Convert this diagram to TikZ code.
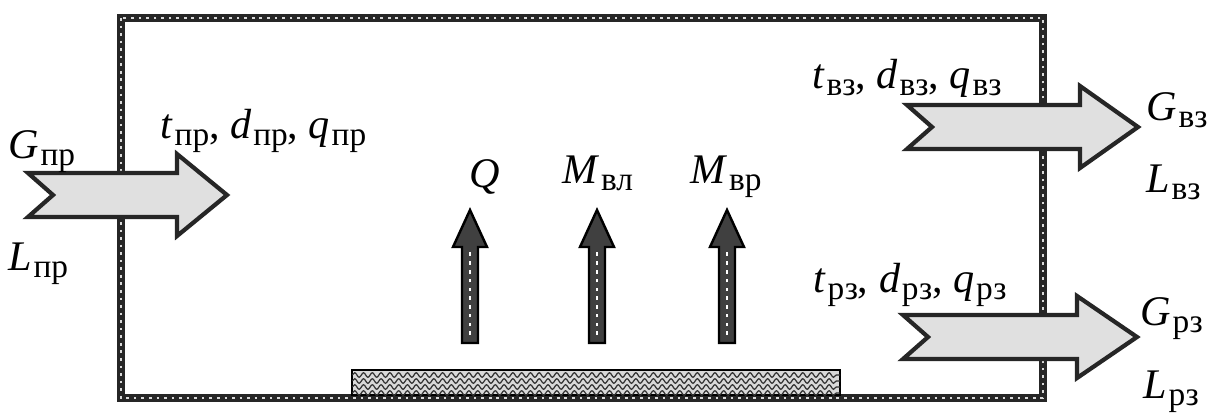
\documentclass[tikz,border=0pt]{standalone}
\usepackage{fontspec}
\setmainfont{Liberation Serif}
\usetikzlibrary{decorations.pathmorphing}
% symbol with an upright Cyrillic index
\newcommand{\sym}[2]{\textit{#1}\kern1pt\raisebox{-0.4ex}{\fontsize{19}{19}\selectfont #2}}
\tikzset{
  wall/.style={line width=5pt, draw=black!85},
  wallrope/.style={line width=0.9pt, draw=white!85!black, dash pattern=on 1.5pt off 2.8pt},
  flow/.style={draw=black!85, line width=2.4pt, fill=black!12, line join=miter},
  riser/.style={draw=black, line width=1.4pt, fill=black!75, line join=miter},
  symtext/.style={font=\fontsize{24}{28}\selectfont, inner sep=0pt, anchor=base west}
}
\begin{document}
\begin{tikzpicture}[x=0.02cm, y=-0.02cm]
  \useasboundingbox (0,0) rectangle (1224,414);
  % room walls
  \draw[wall] (121,18) rectangle (1043,398);
  \draw[wallrope] (121,18) rectangle (1043,398);
  % heat and moisture source on the floor
  \draw[line width=1.6pt, fill=black!15] (352,370) rectangle (840,395);
  \begin{scope}
    \clip (352,370) rectangle (840,395);
    \foreach \yy in {375,381,387,393}
      \draw[black!80, line width=0.7pt, decorate, decoration={snake, amplitude=1.3pt, segment length=5pt}] (352,\yy) -- (840,\yy);
  \end{scope}
  % air flows: tail x / head base x / tip x / axis y
  \foreach \tx/\hx/\px/\yy in {28/177/227/195, 907/1080/1138/127, 903/1077/1137/337}{
    \draw[flow] (\tx,\yy-22) -- (\hx,\yy-22) -- (\hx,\yy-41) -- (\px,\yy) -- (\hx,\yy+41)
      -- (\hx,\yy+22) -- (\tx,\yy+22) -- (\tx+25,\yy) -- cycle;
  }
  % heat and moisture releases
  \foreach \xx in {470,597,727}{
    \draw[riser] (\xx-8,343) -- (\xx-8,247) -- (\xx-17,247) -- (\xx,210) -- (\xx+17,247)
      -- (\xx+8,247) -- (\xx+8,343) -- cycle;
    \draw[white, line width=0.8pt, dash pattern=on 2pt off 3pt] (\xx,335) -- (\xx,252);
  }
  % supply air
  \node[symtext] (Gpr) at (8,158) {\sym{G}{пр}};
  \node[symtext] (Lpr) at (8,270) {\sym{L}{пр}};
  \node[symtext] (parpr) at (160,138) {\sym{t}{пр}, \sym{d}{пр}, \sym{q}{пр}};
  % upper zone exhaust
  \node[symtext] (parvz) at (812,88) {\sym{t}{вз}, \sym{d}{вз}, \sym{q}{вз}};
  \node[symtext] (Gvz) at (1146,120) {\sym{G}{вз}};
  \node[symtext] (Lvz) at (1146,192) {\sym{L}{вз}};
  % working zone exhaust
  \node[symtext] (parrz) at (813,292) {\sym{t}{рз}, \sym{d}{рз}, \sym{q}{рз}};
  \node[symtext] (Grz) at (1140,325) {\sym{G}{рз}};
  \node[symtext] (Lrz) at (1143,398) {\sym{L}{рз}};
  % releases
  \node[symtext, anchor=base] (Q) at (485,187) {\textit{Q}};
  \node[symtext] (Mvl) at (562,183) {\sym{M}{вл}};
  \node[symtext] (Mvr) at (690,183) {\sym{M}{вр}};
\end{tikzpicture}
\end{document}
